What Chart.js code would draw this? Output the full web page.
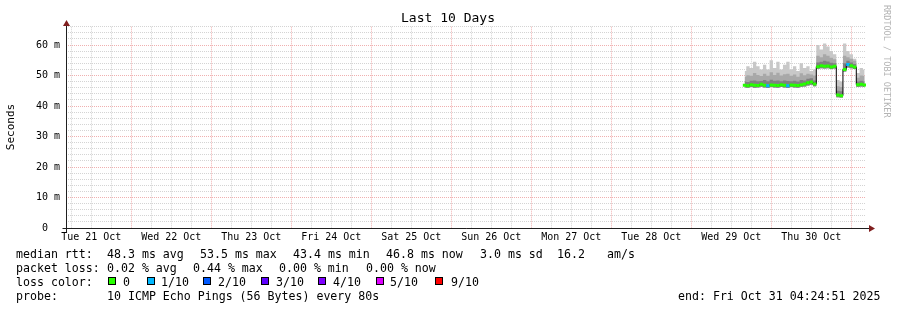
<!DOCTYPE html>
<html>
<head>
<meta charset="utf-8">
<script src="https://cdn.jsdelivr.net/npm/chart.js@4/dist/chart.umd.min.js"></script>
<style>
  html, body { margin: 0; padding: 0; background: #fff; }
  #wrap { position: relative; width: 897px; height: 310px; }
</style>
</head>
<body>
<div id="wrap"><canvas id="ping"></canvas></div>
<script>
// hours counted from Tue 21 Oct 00:00
var x_min = 4.4142;   // Tue 21 Oct 04:24:51
var x_max = 244.4142; // Fri 31 Oct 04:24:51
var day_labels = ["Tue 21 Oct", "Wed 22 Oct", "Thu 23 Oct", "Fri 24 Oct", "Sat 25 Oct",
                  "Sun 26 Oct", "Mon 27 Oct", "Tue 28 Oct", "Wed 29 Oct", "Thu 30 Oct"];

var hours = [208, 209, 210, 211, 212, 213, 214, 215, 216, 217, 218, 219, 220, 221, 222, 223, 224, 225, 226,
             227, 228, 229, 230, 231, 232, 233, 234, 235, 236, 237, 238, 239, 240, 241, 242, 243, 244];
// median rtt (ms)
var median = [46.8, 46.6, 47.0, 46.8, 46.7, 47.1, 46.8, 46.6, 46.9, 46.8, 46.7, 47.0, 46.8, 46.6, 46.9, 46.8, 46.7, 47.0, 47.2,
              47.6, 47.9, 47.2, 52.9, 53.2, 53.0, 53.1, 52.8, 53.0, 43.6, 43.4, 52.0, 53.6, 53.2, 52.8, 47.0, 47.1, 46.9];
// smoke: lowest ping, inner band top, middle band top, highest ping
var smoke_min = [46.1, 46.0, 46.2, 46.0, 46.1, 46.3, 46.1, 45.9, 46.2, 46.1, 46.0, 46.2, 46.1, 45.9, 46.2, 46.1, 46.0, 46.3, 46.4,
                 46.7, 47.0, 46.5, 52.2, 52.4, 52.3, 52.4, 52.1, 52.3, 42.9, 42.8, 51.3, 52.6, 52.4, 52.1, 46.3, 46.4, 46.2];
var smoke_inner = [48.0, 47.9, 48.3, 48.4, 48.1, 48.2, 48.5, 48.1, 48.6, 48.3, 48.4, 48.1, 48.4, 48.2, 48.1, 48.3, 48.0, 48.5, 48.4,
                   48.9, 49.1, 48.4, 54.3, 54.5, 54.8, 54.6, 54.2, 54.0, 45.0, 44.8, 54.0, 54.8, 54.3, 53.8, 48.0, 48.3, 48.0];
var smoke_mid = [49.6, 50.1, 49.9, 50.8, 50.2, 49.8, 50.6, 49.9, 51.1, 50.2, 50.9, 50.0, 50.4, 50.6, 49.9, 50.3, 49.6, 50.7, 50.1,
                 50.6, 50.3, 50.0, 56.5, 56.0, 57.0, 56.5, 55.8, 55.3, 46.5, 46.2, 56.5, 56.0, 55.5, 54.8, 49.3, 50.0, 49.8];
var smoke_max = [51.5, 53.0, 52.5, 54.5, 53.0, 52.0, 53.5, 52.0, 55.0, 52.5, 54.5, 52.0, 53.5, 54.5, 52.0, 53.0, 51.5, 54.0, 52.5,
                 53.0, 51.5, 52.0, 60.0, 58.5, 60.5, 59.5, 58.0, 57.0, 48.5, 48.0, 60.5, 58.0, 57.0, 55.5, 50.8, 52.5, 52.0];
// lost pings out of 10 per step
var loss = [0, 0, 0, 0, 0, 0, 0, 1, 0, 0, 0, 0, 0, 1, 0, 0, 0, 0, 0,
            0, 0, 0, 0, 0, 0, 0, 0, 0, 0, 0, 0, 1, 0, 0, 0, 0, 0];

var loss_names = ["0", "1/10", "2/10", "3/10", "4/10", "5/10", "9/10"];
var loss_colors = ["#26ff00", "#00b8ff", "#0059ff", "#5e00ff", "#7e00ff", "#dd00ff", "#ff0000"];

var MONO = "'DejaVu Sans Mono', monospace";
var GRID = 'rgba(143,143,143,0.38)';
var MGRID = 'rgba(222,79,79,0.45)';

function pts(vals) {
    return hours.map(function (h, i) { return { x: h, y: vals[i] }; });
}

function band(vals, color, order) {
    return {
        data: pts(vals), stepped: 'middle', borderWidth: 0, pointRadius: 0,
        backgroundColor: color, fill: { target: 0 }, order: order
    };
}

var datasets = [
    { data: pts(smoke_min), stepped: 'middle', borderWidth: 0, pointRadius: 0, fill: false, order: 9 },
    band(smoke_max, '#c8c8c8', 6),
    band(smoke_mid, '#a8a8a8', 5),
    band(smoke_inner, '#808080', 4),
    { data: pts(median), stepped: 'middle', borderColor: '#000', borderWidth: 1, pointRadius: 0, fill: false, order: 2 },
    { data: pts(median), showLine: false, pointStyle: 'line', pointRadius: 1.8, pointBorderWidth: 3,
      pointBorderColor: loss.map(function (l) { return loss_colors[l]; }), order: 1 }
];

var legend_rows = [
    [[16, "median rtt:"], [107, "48.3 ms avg"], [200, "53.5 ms max"], [293, "43.4 ms min"],
     [386, "46.8 ms now"], [480, "3.0 ms sd"], [557, "16.2"], [607, "am/s"]],
    [[16, "packet loss:"], [107, "0.02 % avg"], [193, "0.44 % max"], [279, "0.00 % min"], [366, "0.00 % now"]],
    [[16, "loss color:"]],
    [[16, "probe:"], [107, "10 ICMP Echo Pings (56 Bytes) every 80s"], [678, "end: Fri Oct 31 04:24:51 2025"]]
];
var loss_box_x = [108, 147, 203, 261, 318, 376, 435];
var loss_text_x = [123, 161, 218, 276, 333, 390, 451];

var decor = {
    id: 'decor',
    afterDraw: function (chart) {
        var c = chart.ctx, a = chart.chartArea;
        var ax = Math.round(a.left - 0.5) + 0.5, ay = Math.round(a.bottom - 0.5) + 0.5;
        c.save();
        c.strokeStyle = '#1f1f1f';
        c.lineWidth = 1;
        c.beginPath();
        c.moveTo(ax, ay + 4); c.lineTo(ax, 23);
        c.moveTo(ax - 4, ay); c.lineTo(870, ay);
        c.stroke();
        c.fillStyle = '#801f1f';
        c.beginPath();
        c.moveTo(ax - 3.5, 26); c.lineTo(ax + 3.5, 26); c.lineTo(ax, 20); c.closePath();
        c.fill();
        c.beginPath();
        c.moveTo(869, ay - 3.5); c.lineTo(869, ay + 3.5); c.lineTo(875, ay); c.closePath();
        c.fill();

        c.fillStyle = '#000';
        c.font = "13px " + MONO;
        c.textAlign = 'center';
        c.textBaseline = 'middle';
        c.fillText("Last 10 Days", 448, 19);

        c.save();
        c.font = "11px " + MONO;
        c.translate(11, 127);
        c.rotate(-Math.PI / 2);
        c.fillText("Seconds", 0, 0);
        c.restore();

        c.save();
        c.fillStyle = '#b4b4b4';
        c.font = "8.5px " + MONO;
        c.textAlign = 'left';
        c.translate(886, 5);
        c.rotate(Math.PI / 2);
        c.fillText("RRDTOOL / TOBI OETIKER", 0, 0);
        c.restore();

        c.font = "11.6px " + MONO;
        c.textAlign = 'left';
        c.textBaseline = 'alphabetic';
        legend_rows.forEach(function (row, r) {
            row.forEach(function (p) { c.fillText(p[1], p[0], 258 + r * 14); });
        });
        loss_names.forEach(function (name, i) {
            c.fillStyle = loss_colors[i];
            c.fillRect(loss_box_x[i], 277, 8, 8);
            c.strokeStyle = '#000';
            c.strokeRect(loss_box_x[i] + 0.5, 277.5, 7, 7);
            c.fillStyle = '#000';
            c.fillText(name, loss_text_x[i], 286);
        });
        c.restore();
    }
};

function every(step, from, to) {
    var t = [];
    for (var v = from; v <= to; v += step) t.push({ value: v });
    return t;
}

new Chart(document.getElementById('ping'), {
    type: 'line',
    data: { datasets: datasets },
    plugins: [decor],
    options: {
        responsive: true,
        maintainAspectRatio: false,
        animation: false,
        events: [],
        layout: { padding: { top: 26.7, right: 31, left: 0, bottom: 0 } },
        plugins: { legend: { display: false }, tooltip: { enabled: false } },
        scales: {
            x: {
                type: 'linear', min: x_min, max: x_max,
                afterFit: function (s) { s.height = 82; },
                afterBuildTicks: function (s) { s.ticks = every(6, 6, 240); },
                grid: {
                    drawTicks: false, lineWidth: 1,
                    color: function (ctx) {
                        return ctx.tick && ctx.tick.value % 24 === 0 ? MGRID : GRID;
                    }
                },
                border: { display: false, dash: [1, 1] },
                ticks: {
                    autoSkip: false, maxRotation: 0, padding: 3, color: '#000',
                    font: { family: MONO, size: 10 },
                    callback: function (v) { return v % 24 === 12 ? day_labels[(v - 12) / 24] : ''; }
                }
            },
            y: {
                min: 0, max: 66,
                afterFit: function (s) { s.width = 66; },
                afterBuildTicks: function (s) { s.ticks = every(2, 0, 66); },
                grid: {
                    drawTicks: false, lineWidth: 1,
                    color: function (ctx) {
                        return ctx.tick && ctx.tick.value % 10 === 0 ? MGRID : GRID;
                    }
                },
                border: { display: false, dash: [1, 1] },
                ticks: {
                    autoSkip: false, padding: 6, color: '#000',
                    font: { family: MONO, size: 10 },
                    callback: function (v) { return v % 10 === 0 ? (v === 0 ? "0  " : v + " m") : ''; }
                }
            }
        }
    }
});
</script>
</body>
</html>
